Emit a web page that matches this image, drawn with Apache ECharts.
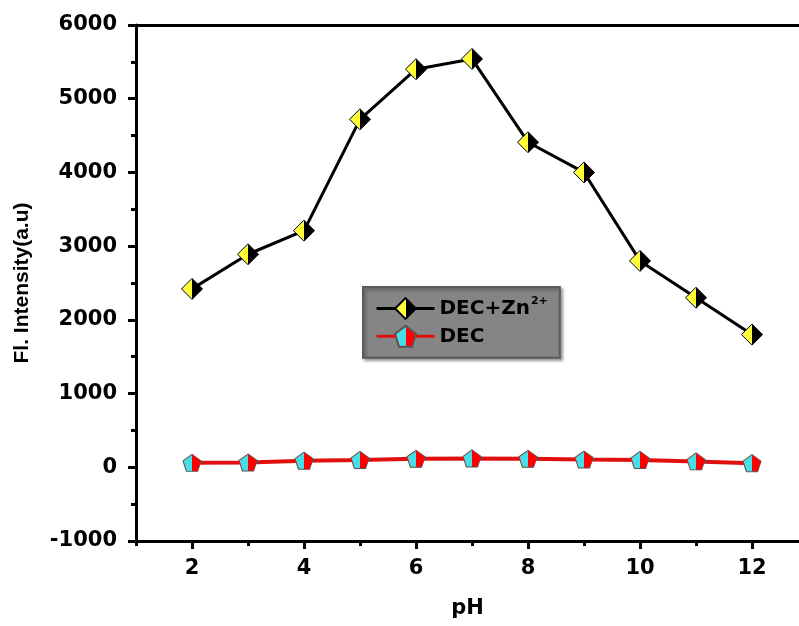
<!DOCTYPE html>
<html>
<head>
<meta charset="utf-8">
<script src="https://cdn.jsdelivr.net/npm/echarts@6/dist/echarts.min.js"></script>
<style>html,body{margin:0;padding:0;background:#fff;}#c{width:799px;height:626px;}</style>
</head>
<body>
<div id="c"></div>
<script>
const pH = [2, 3, 4, 5, 6, 7, 8, 9, 10, 11, 12];
const decZn = [2420, 2890, 3210, 4720, 5400, 5540, 4410, 4000, 2800, 2300, 1800];
const dec = [60, 65, 90, 100, 115, 120, 115, 105, 100, 80, 55];
const xMajorTicks = [2, 4, 6, 8, 10, 12];
const xMinorTicks = [1, 3, 5, 7, 9, 11];
const seriesNames = ['DEC+Zn2+', 'DEC'];

const FONT = 'DejaVu Sans';
const chart = echarts.init(document.getElementById('c'), null, {renderer: 'canvas'});

function split(c1, c2) {
  return {type: 'linear', x: 0, y: 0, x2: 1, y2: 0,
    colorStops: [{offset: 0, color: c1}, {offset: 0.5, color: c1}, {offset: 0.5, color: c2}, {offset: 1, color: c2}]};
}
const pentagon = 'path://M50,0 L100,38 L81,100 L19,100 L0,38 Z';

const xMin = 1, xMax = 1 + 663 / 56;

chart.setOption({
  backgroundColor: '#ffffff',
  animation: false,
  grid: {left: 136, right: 0, top: 25, bottom: 85, containLabel: false},
  legend: {
    data: seriesNames,
    orient: 'vertical',
    left: 363, top: 287,
    padding: [9, 12, 10, 12],
    itemGap: 5,
    itemWidth: 58, itemHeight: 26,
    backgroundColor: '#858585',
    borderColor: '#5a5a5a', borderWidth: 2,
    shadowColor: 'rgba(0,0,0,0.35)', shadowBlur: 3, shadowOffsetX: 2, shadowOffsetY: 2,
    lineStyle: {width: 3},
    formatter: function (n) { return n === 'DEC+Zn2+' ? 'DEC+Zn{sup|2+}' : n; },
    textStyle: {
      fontFamily: FONT, fontWeight: 'bold', fontSize: 20, color: '#000',
      rich: {sup: {fontFamily: FONT, fontWeight: 'bold', fontSize: 11, color: '#000', verticalAlign: 'top', padding: [0, 0, 14, 1]}}
    }
  },
  xAxis: [
    {
      type: 'value', min: xMin, max: xMax, interval: 1, position: 'bottom',
      name: 'pH', nameLocation: 'middle', nameGap: 57,
      nameTextStyle: {fontFamily: FONT, fontWeight: 'bold', fontSize: 21, color: '#000'},
      axisLine: {show: true, onZero: false, lineStyle: {color: '#000', width: 3}},
      axisTick: {show: true, customValues: xMajorTicks, length: 8, lineStyle: {color: '#000', width: 3}},
      axisLabel: {show: true, customValues: xMajorTicks, margin: 17, fontFamily: FONT, fontWeight: 'bold', fontSize: 21, color: '#000'},
      splitLine: {show: false}
    },
    {
      type: 'value', min: xMin, max: xMax, interval: 1, position: 'bottom',
      axisLine: {show: false, onZero: false},
      axisTick: {show: true, customValues: xMinorTicks, length: 5, lineStyle: {color: '#000', width: 3}},
      axisLabel: {show: false},
      splitLine: {show: false}
    },
    {
      type: 'value', min: xMin, max: xMax, position: 'top',
      axisLine: {show: true, onZero: false, lineStyle: {color: '#000', width: 3}},
      axisTick: {show: false}, axisLabel: {show: false}, splitLine: {show: false}
    }
  ],
  yAxis: {
    type: 'value', min: -1000, max: 6000, interval: 1000,
    name: 'Fl. Intensity(a.u)', nameLocation: 'middle', nameGap: 103, nameRotate: 90,
    nameTextStyle: {fontFamily: 'Liberation Sans', fontWeight: 'bold', fontSize: 21, color: '#000'},
    axisLine: {show: true, onZero: false, lineStyle: {color: '#000', width: 3}},
    axisTick: {show: true, length: 8, lineStyle: {color: '#000', width: 3}},
    minorTick: {show: true, splitNumber: 2, length: 5, lineStyle: {color: '#000', width: 3}},
    axisLabel: {margin: 19, fontFamily: FONT, fontWeight: 'bold', fontSize: 21, color: '#000',
      formatter: function (v) { return String(v); }},
    splitLine: {show: false}
  },
  series: [
    {
      name: seriesNames[0], type: 'line', xAxisIndex: 0,
      data: pH.map((x, i) => [x, decZn[i]]),
      lineStyle: {color: '#000', width: 3},
      itemStyle: {color: split('#ffff33', '#000000'), borderColor: '#000', borderWidth: 1},
      symbol: 'diamond', symbolSize: [21, 21], z: 3
    },
    {
      name: seriesNames[1], type: 'line', xAxisIndex: 0,
      data: pH.map((x, i) => [x, dec[i]]),
      lineStyle: {color: '#e01010', width: 4},
      itemStyle: {color: split('#44e0e8', '#ff0000'), borderColor: '#555', borderWidth: 1},
      symbol: pentagon, symbolSize: [18, 17], z: 2
    }
  ]
});
</script>
</body>
</html>
